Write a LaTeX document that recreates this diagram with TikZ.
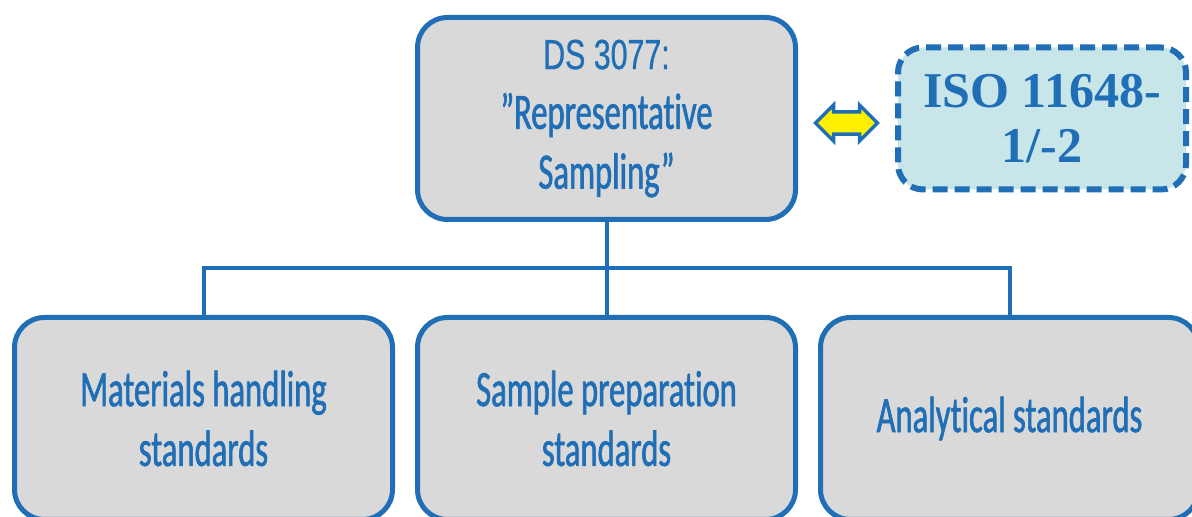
\documentclass[tikz,border=0pt]{standalone}
\usepackage{fontspec}
\usepackage{xcolor}
\usetikzlibrary{positioning,calc,shapes.arrows}

\definecolor{stdblue}{HTML}{1F6EB6}
\definecolor{boxgrey}{HTML}{D9D9D9}
\definecolor{isofill}{HTML}{C8E6EA}
\definecolor{swapyellow}{HTML}{FFF000}

\newfontfamily\narrowfont[FakeStretch=0.72, FakeBold=0.6]{Liberation Sans}
\newfontfamily\bodyfont[FakeStretch=0.64, FakeBold=1.2, Ligatures=NoCommon]{Carlito}
\newfontfamily\isofont{Liberation Serif}

\begin{document}
\begin{tikzpicture}[
  node distance=1.86cm and 0.4cm,
  box/.style={draw=stdblue, line width=0.1cm, rounded corners=0.6cm, fill=boxgrey, align=center, minimum width=7.56cm, minimum height=4.04cm, text=stdblue, font=\bodyfont\fontsize{29}{34}\selectfont},
  isobox/.style={draw=stdblue, line width=0.12cm, dash pattern=on 0.3cm off 0.14cm, rounded corners=0.5cm, fill=isofill, align=center, minimum width=5.76cm, minimum height=2.84cm, text=stdblue, font=\isofont\bfseries\fontsize{28.5}{31}\selectfont},
  branch/.style={draw=stdblue, line width=0.08cm}
]

\path[use as bounding box, clip] (0,0) rectangle (23.84,10.34);

% Standard on top
\node[box] (ds) at (12.13,7.97) {{\narrowfont\fontsize{24}{34}\selectfont DS 3077:}\\”Representative\\Sampling”};

% Related ISO standard
\node[isobox, right=1.94cm of ds] (iso) {ISO 11648-\\1/-2};

% Swap symbol between the two
\node[double arrow, draw=stdblue, line width=0.07cm, fill=swapyellow, minimum height=1.24cm, minimum width=0.72cm, double arrow head extend=0.11cm, inner sep=0.14cm] (swap) at ($(ds.east)!0.5!(iso.west)+(0,-0.09)$) {};

% Supporting standards
\node[box, below=of ds] (prep) {Sample preparation\\standards};
\node[box, left=of prep] (handling) {Materials handling\\standards};
\node[box, right=of prep] (analytic) {Analytical standards};

% Tree lines
\coordinate (bus) at ($(ds.south)!0.5!(prep.north)$);
\draw[branch] (ds.south) -- (prep.north);
\draw[branch] (handling.north) |- (bus) -| (analytic.north);

\end{tikzpicture}
\end{document}
